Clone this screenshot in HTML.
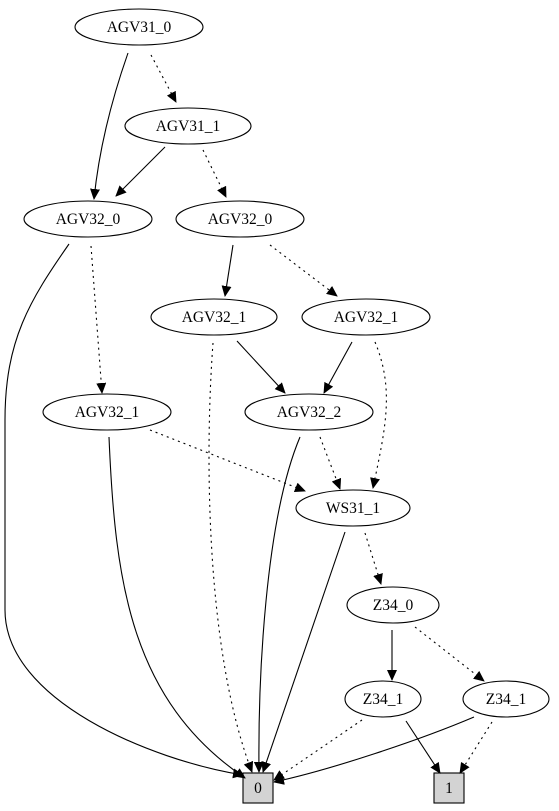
<!DOCTYPE html>
<html><head><meta charset="utf-8"><style>
html,body{margin:0;padding:0;background:#fff;}
svg{display:block;}
text{font-family:"Liberation Serif",serif;font-size:15.5px;text-anchor:middle;}
</style></head><body>
<svg width="559" height="811" viewBox="0 0 559 811" xmlns="http://www.w3.org/2000/svg">
<defs>
<marker id="a" markerWidth="11" markerHeight="10" refX="10" refY="5" orient="auto" markerUnits="userSpaceOnUse">
<path d="M0,0 L11,5 L0,10 Z" fill="#000"/></marker>
</defs>
<g fill="none" stroke="#000" stroke-width="1.1">
<ellipse cx="139" cy="27" rx="64" ry="18"/>
<ellipse cx="188" cy="126" rx="63" ry="18"/>
<ellipse cx="88" cy="219" rx="64" ry="18"/>
<ellipse cx="240" cy="219" rx="64" ry="18"/>
<ellipse cx="214" cy="317" rx="63" ry="18"/>
<ellipse cx="366" cy="317" rx="64" ry="18"/>
<ellipse cx="107" cy="412" rx="64" ry="18"/>
<ellipse cx="309" cy="412" rx="64" ry="18"/>
<ellipse cx="353" cy="508" rx="57" ry="18"/>
<ellipse cx="393" cy="605" rx="46" ry="18"/>
<ellipse cx="383" cy="699" rx="38" ry="18"/>
<ellipse cx="506" cy="699" rx="43" ry="18"/>
<rect x="243" y="773" width="30" height="30" fill="#d3d3d3"/>
<rect x="434" y="773" width="30" height="30" fill="#d3d3d3"/>
</g>
<g fill="none" stroke="#000" stroke-width="1.1" marker-end="url(#a)">
<path d="M128,53 C115,90 100,140 94,199"/>
<path d="M151,55 L176,102" stroke-dasharray="2,4"/>
<path d="M165,147 L116,196"/>
<path d="M203,150 L226,197" stroke-dasharray="2,4"/>
<path d="M69,244 C30,300 5,340 5,420 L5,610 C5,700 150,760 243,775"/>
<path d="M91,246 L102,393" stroke-dasharray="2,4"/>
<path d="M233,245 L225,296"/>
<path d="M270,245 L337,296" stroke-dasharray="2,4"/>
<path d="M237,341 L285,393"/>
<path d="M213,343 C205,450 205,650 252,772" stroke-dasharray="2,4"/>
<path d="M352,342 L324,393"/>
<path d="M375,342 C395,390 385,430 373,488" stroke-dasharray="2,4"/>
<path d="M150,430 L305,491" stroke-dasharray="2,4"/>
<path d="M109,437 C115,580 130,700 245,778"/>
<path d="M300,437 C265,520 258,680 259,772"/>
<path d="M320,437 L340,489" stroke-dasharray="2,4"/>
<path d="M345,532 L263,772"/>
<path d="M365,533 L381,584" stroke-dasharray="2,4"/>
<path d="M392,630 L392,680"/>
<path d="M415,627 L484,681" stroke-dasharray="2,4"/>
<path d="M362,720 L274,780" stroke-dasharray="2,4"/>
<path d="M406,721 L440,773"/>
<path d="M474,717 C420,740 330,770 274,782"/>
<path d="M492,722 L460,773" stroke-dasharray="2,4"/>
</g>
<g fill="#000">
<text x="139" y="32">AGV31_0</text>
<text x="188" y="131">AGV31_1</text>
<text x="88" y="224">AGV32_0</text>
<text x="240" y="224">AGV32_0</text>
<text x="214" y="322">AGV32_1</text>
<text x="366" y="322">AGV32_1</text>
<text x="107" y="417">AGV32_1</text>
<text x="309" y="417">AGV32_2</text>
<text x="353" y="513">WS31_1</text>
<text x="393" y="610">Z34_0</text>
<text x="383" y="704">Z34_1</text>
<text x="506" y="704">Z34_1</text>
<text x="258" y="793">0</text>
<text x="449" y="793">1</text>
</g>
</svg>
</body></html>
